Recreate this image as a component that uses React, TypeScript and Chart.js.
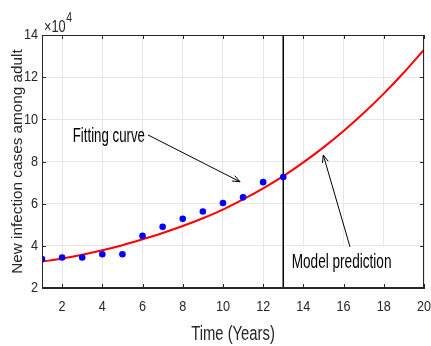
import React, { useEffect, useRef } from "react";
import { Chart, registerables } from "chart.js";

Chart.register(...registerables);

// ---- data ----
const observedYears = [1, 2, 3, 4, 5, 6, 7, 8, 9, 10, 11, 12, 13];
const observedCases = [3.37, 3.45, 3.45, 3.6, 3.6, 4.47, 4.9, 5.28, 5.63, 6.03, 6.3, 7.02, 7.26];
const fitYears = [1, 2, 3, 4, 5, 6, 7, 8, 9, 10, 11, 12, 13, 14, 15, 16, 17, 18, 19, 20];
const fitCases = [3.25, 3.4, 3.58, 3.79, 4.03, 4.31, 4.61, 4.94, 5.31, 5.72, 6.2, 6.73, 7.31, 7.96, 8.67, 9.45, 10.3, 11.22, 12.22, 13.3];
const xTickValues = [2, 4, 6, 8, 10, 12, 14, 16, 18, 20];
const yTickValues = [2, 4, 6, 8, 10, 12, 14];
const predictionStartYear = 13;

const FONT = '"Liberation Sans", Arial, sans-serif';
const AXIS = "#262626";

// annotation anchors in data units
const fitNote = { text: "Fitting curve", tx: 6.12, ty: 8.94, fromX: 6.27, fromY: 9.26, toX: 10.85, toY: 7.04 };
const modelNote = { text: "Model prediction", tx: 13.42, ty: 2.96, fromX: 16.32, fromY: 3.95, toX: 14.99, toY: 8.31 };

function condensedText(
  ctx: any, text: string, x: number, y: number, size: number, squeeze: number, align: "left" | "right"
) {
  ctx.save();
  ctx.font = `${size}px ${FONT}`;
  ctx.textAlign = align;
  ctx.textBaseline = "alphabetic";
  ctx.translate(x, y);
  ctx.scale(squeeze, 1);
  const fill = ctx.__origFill || ctx.fillText;
  fill.call(ctx, text, 0, 0);
  const w = ctx.measureText(text).width * squeeze;
  ctx.restore();
  return w;
}

function drawArrow(ctx: CanvasRenderingContext2D, x1: number, y1: number, x2: number, y2: number) {
  ctx.save();
  ctx.strokeStyle = "#000";
  ctx.lineWidth = 1;
  ctx.beginPath();
  ctx.moveTo(x1, y1);
  ctx.lineTo(x2, y2);
  ctx.stroke();
  const a = Math.atan2(y2 - y1, x2 - x1);
  const len = 8;
  const spread = 0.38;
  ctx.beginPath();
  ctx.moveTo(x2 - len * Math.cos(a - spread), y2 - len * Math.sin(a - spread));
  ctx.lineTo(x2, y2);
  ctx.lineTo(x2 - len * Math.cos(a + spread), y2 - len * Math.sin(a + spread));
  ctx.stroke();
  ctx.restore();
}

// Condensed (Helvetica-Narrow-like) look for the axis texts drawn by Chart.js
const condensePlugin = {
  id: "condense",
  beforeDraw(chart: any) {
    const ctx = chart.ctx;
    if (!ctx.__origFill) {
      ctx.__origFill = ctx.fillText;
      ctx.fillText = function (text: string, x: number, y: number, maxWidth?: number) {
        const t = this.getTransform();
        if (this.__condense && Math.abs(t.b) < 1e-6 && Math.abs(t.c) < 1e-6) {
          const m = /([\d.]+)px/.exec(this.font);
          const size = m ? parseFloat(m[1]) : 12;
          const sq = size > 17 ? 0.76 : 0.82;
          this.save();
          this.translate(x, y);
          this.scale(sq, 1);
          this.__origFill.call(this, text, 0, 0);
          this.restore();
        } else if (maxWidth === undefined) {
          this.__origFill.call(this, text, x, y);
        } else {
          this.__origFill.call(this, text, x, y, maxWidth);
        }
      };
    }
    ctx.__condense = true;
  },
  beforeDatasetsDraw(chart: any) {
    chart.ctx.__condense = false;
  },
  afterDraw(chart: any) {
    chart.ctx.__condense = false;
  },
};

const decorPlugin = {
  id: "decor",
  beforeDatasetsDraw(chart: any) {
    const { ctx, chartArea, scales } = chart;
    const xs = scales.x;
    const ys = scales.y;
    ctx.save();
    // white box behind "Model prediction"
    const bx = xs.getPixelForValue(modelNote.tx) - 6;
    const by = ys.getPixelForValue(modelNote.fromY);
    ctx.fillStyle = "#fff";
    ctx.fillRect(bx, by, 114, chartArea.bottom - by - 1);
    // vertical prediction line
    const vx = xs.getPixelForValue(predictionStartYear);
    ctx.strokeStyle = "#000";
    ctx.lineWidth = 1.5;
    ctx.beginPath();
    ctx.moveTo(vx, chartArea.top);
    ctx.lineTo(vx, chartArea.bottom);
    ctx.stroke();
    ctx.restore();
  },
  afterDatasetsDraw(chart: any) {
    const { ctx, chartArea, scales } = chart;
    const xs = scales.x;
    const ys = scales.y;
    const { left, right, top, bottom } = chartArea;
    ctx.save();
    // frame
    ctx.strokeStyle = AXIS;
    ctx.lineWidth = 1;
    ctx.strokeRect(left + 0.5, top + 0.5, right - left - 1, bottom - top - 1);
    // inward ticks
    ctx.beginPath();
    xTickValues.forEach((v) => {
      const p = Math.round(xs.getPixelForValue(v)) + 0.5;
      ctx.moveTo(p, bottom);
      ctx.lineTo(p, bottom - 4);
      ctx.moveTo(p, top);
      ctx.lineTo(p, top + 4);
    });
    yTickValues.forEach((v) => {
      const p = Math.round(ys.getPixelForValue(v)) + 0.5;
      ctx.moveTo(left, p);
      ctx.lineTo(left + 4, p);
      ctx.moveTo(right, p);
      ctx.lineTo(right - 4, p);
    });
    ctx.stroke();

    // annotations
    ctx.fillStyle = "#000";
    condensedText(ctx, fitNote.text, xs.getPixelForValue(fitNote.tx), ys.getPixelForValue(fitNote.ty), 19.5, 0.68, "right");
    drawArrow(ctx, xs.getPixelForValue(fitNote.fromX), ys.getPixelForValue(fitNote.fromY),
      xs.getPixelForValue(fitNote.toX), ys.getPixelForValue(fitNote.toY));
    condensedText(ctx, modelNote.text, xs.getPixelForValue(modelNote.tx), ys.getPixelForValue(modelNote.ty), 20, 0.68, "left");
    drawArrow(ctx, xs.getPixelForValue(modelNote.fromX), ys.getPixelForValue(modelNote.fromY),
      xs.getPixelForValue(modelNote.toX), ys.getPixelForValue(modelNote.toY));

    // exponent label
    ctx.fillStyle = AXIS;
    const w = condensedText(ctx, "×10", left + 2, top - 3.3, 17, 0.75, "left");
    condensedText(ctx, "4", left + 2 + w + 0.5, top - 13, 14, 0.75, "left");
    ctx.restore();
  },
};

export default function App() {
  const ref = useRef<HTMLCanvasElement | null>(null);
  useEffect(() => {
    if (!ref.current) return;
    const chart = new Chart(ref.current, {
      type: "line",
      data: {
        datasets: [
          {
            label: "Observed",
            data: observedYears.map((x, i) => ({ x, y: observedCases[i] })),
            showLine: false,
            pointRadius: 3.3,
            pointBackgroundColor: "#0000ff",
            pointBorderColor: "#0000ff",
            pointBorderWidth: 0,
            borderColor: "#0000ff",
          },
          {
            label: "Fitting curve",
            data: fitYears.map((x, i) => ({ x, y: fitCases[i] })),
            borderColor: "#ff0000",
            borderWidth: 2,
            pointRadius: 0,
            cubicInterpolationMode: "monotone",
            fill: false,
          },
        ],
      },
      options: {
        animation: false,
        responsive: false,
        maintainAspectRatio: false,
        layout: { padding: { top: 35, right: 7, left: 0, bottom: 0 } },
        plugins: { legend: { display: false }, tooltip: { enabled: false } },
        scales: {
          x: {
            type: "linear",
            min: 1,
            max: 20,
            afterBuildTicks: (s: any) => {
              s.ticks = xTickValues.map((v) => ({ value: v }));
            },
            afterFit: (s: any) => {
              s.height = 58;
              s.paddingLeft = 0;
              s.paddingRight = 0;
            },
            grid: { color: "#e6e6e6", drawTicks: false, lineWidth: 1 },
            border: { display: true, color: AXIS, width: 1 },
            ticks: { color: AXIS, font: { family: FONT, size: 15.4 }, padding: 10, maxRotation: 0 },
            title: {
              display: true,
              text: "Time (Years)",
              color: AXIS,
              font: { family: FONT, size: 19.5 },
              padding: { top: 0, bottom: 0 },
            },
          },
          y: {
            type: "linear",
            min: 2,
            max: 14,
            afterBuildTicks: (s: any) => {
              s.ticks = yTickValues.map((v) => ({ value: v }));
            },
            afterFit: (s: any) => {
              s.width = 42;
              s.paddingTop = 0;
              s.paddingBottom = 0;
            },
            grid: { color: "#e6e6e6", drawTicks: false, lineWidth: 1 },
            border: { display: true, color: AXIS, width: 1 },
            ticks: { color: AXIS, font: { family: FONT, size: 15.4 }, padding: 4 },
            title: {
              display: true,
              text: "New infection cases among adult",
              color: AXIS,
              font: { family: FONT, size: 15.3 },
              padding: { top: 9, bottom: 0 },
            },
          },
        },
      },
      plugins: [condensePlugin, decorPlugin],
    } as any);
    return () => chart.destroy();
  }, []);
  return (
    <div style={{ position: "fixed", left: 0, top: 0, width: 431, height: 346, background: "#fff" }}>
      <canvas ref={ref} width={431} height={346} style={{ width: 431, height: 346, display: "block" }} />
    </div>
  );
}
